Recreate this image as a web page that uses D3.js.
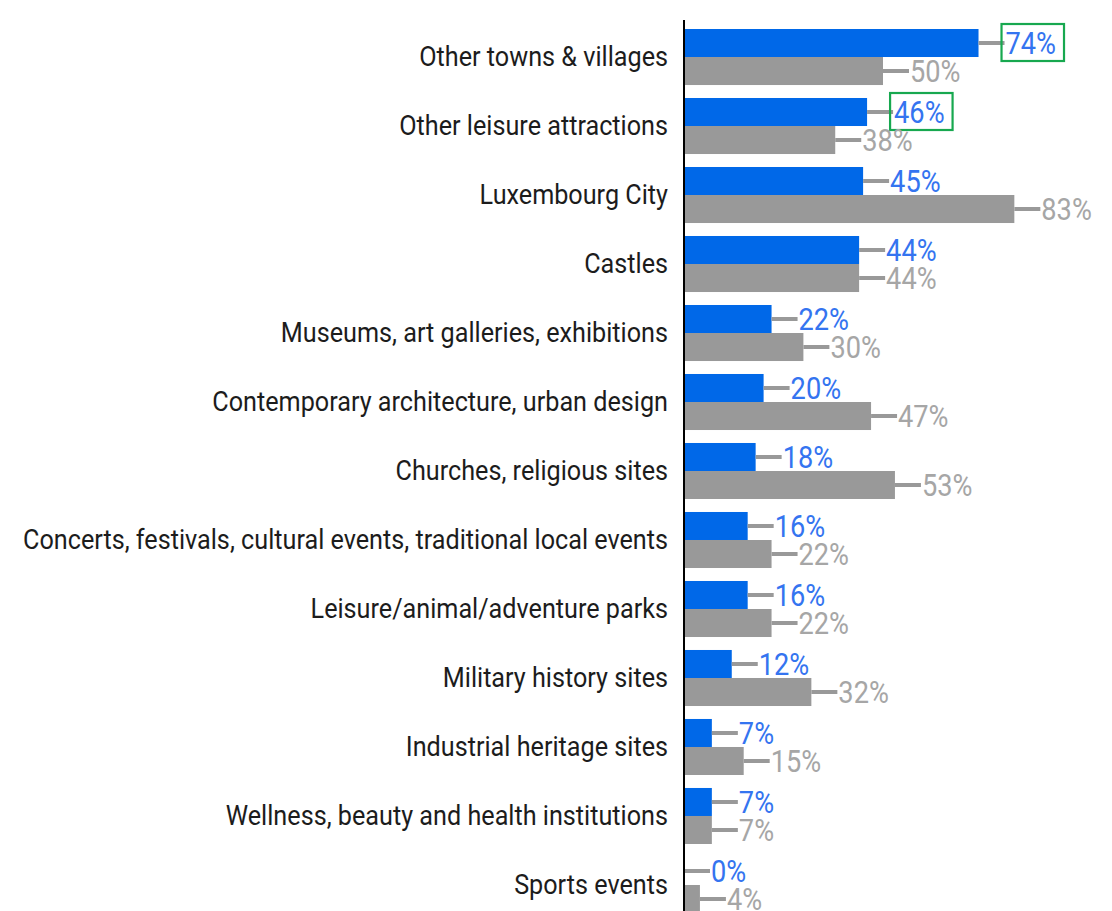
<!DOCTYPE html>
<html>
<head>
<meta charset="utf-8">
<script src="https://cdn.jsdelivr.net/npm/d3@7"></script>
<style>
  html, body { margin: 0; padding: 0; background: #fff; }
  svg { display: block; font-family: Roboto, "Noto Sans", sans-serif; }
</style>
</head>
<body>
<svg id="chart" width="1112" height="911"></svg>
<script>
// Activity categories, top to bottom
const categories = [
  "Other towns & villages",
  "Other leisure attractions",
  "Luxembourg City",
  "Castles",
  "Museums, art galleries, exhibitions",
  "Contemporary architecture, urban design",
  "Churches, religious sites",
  "Concerts, festivals, cultural events, traditional local events",
  "Leisure/animal/adventure parks",
  "Military history sites",
  "Industrial heritage sites",
  "Wellness, beauty and health institutions",
  "Sports events"
];
// Share (%) per category, two series
const seriesBlue = [74, 46, 45, 44, 22, 20, 18, 16, 16, 12, 7, 7, 0];
const seriesGray = [50, 38, 83, 44, 30, 47, 53, 22, 22, 32, 15, 7, 4];
// Values highlighted with a box
const highlighted = ["Other towns & villages", "Other leisure attractions"];

const svg = d3.select("#chart");
const axisX = 684;
const labelScale = 0.9;   // horizontal squeeze for category labels
const valueScale = 0.85;  // horizontal squeeze for value labels

const x = d3.scaleLinear().domain([0, 100]).range([axisX, axisX + 398]);
const y = d3.scaleBand().domain(categories).range([29, 913]).paddingInner(0.188).paddingOuter(0);
const sub = d3.scaleBand().domain(["blue", "gray"]).range([0, y.bandwidth()]);

const rows = categories.map((c, i) => ({ cat: c, blue: seriesBlue[i], gray: seriesGray[i] }));
const series = [
  { key: "blue", fill: "#0068e8", text: "#3474f0" },
  { key: "gray", fill: "#999999", text: "#a6a6a6" }
];

const g = svg.append("g");

rows.forEach(r => {
  series.forEach(s => {
    const v = r[s.key];
    const top = y(r.cat) + sub(s.key);
    const cy = top + sub.bandwidth() / 2;
    g.append("rect")
      .attr("x", x(0)).attr("y", top)
      .attr("width", x(v) - x(0)).attr("height", sub.bandwidth())
      .attr("fill", s.fill);
    // leader line from bar end to the value label
    g.append("line")
      .attr("x1", x(v)).attr("x2", x(v) + 26)
      .attr("y1", cy).attr("y2", cy)
      .attr("stroke", "#999").attr("stroke-width", 4);
    const t = g.append("text")
      .attr("transform", `translate(${x(v) + 27},${cy}) scale(${valueScale},1)`)
      .attr("dominant-baseline", "central")
      .attr("font-size", 32)
      .attr("fill", s.text)
      .text(v + "%");
    if (s.key === "blue" && highlighted.includes(r.cat)) {
      const w = t.node().getComputedTextLength() * valueScale;
      g.append("rect")
        .attr("x", x(v) + 23).attr("y", cy - 19)
        .attr("width", w + 12).attr("height", 37)
        .attr("fill", "none").attr("stroke", "#17a84f").attr("stroke-width", 2.2);
    }
  });
});

// category labels
const yAxis = d3.axisLeft(y).tickSize(0).tickPadding(0);
const ax = svg.append("g").attr("transform", `translate(${axisX - 16},0)`).call(yAxis);
ax.select(".domain").remove();
ax.selectAll(".tick text")
  .attr("x", 0).attr("dy", null)
  .attr("dominant-baseline", "central")
  .attr("transform", `scale(${labelScale},1)`)
  .attr("font-family", "Roboto, sans-serif")
  .attr("font-size", 28)
  .attr("fill", "#1c1c1c");

// vertical baseline
svg.append("line")
  .attr("x1", axisX).attr("x2", axisX)
  .attr("y1", 20).attr("y2", 911)
  .attr("stroke", "#000").attr("stroke-width", 2);
</script>
</body>
</html>
